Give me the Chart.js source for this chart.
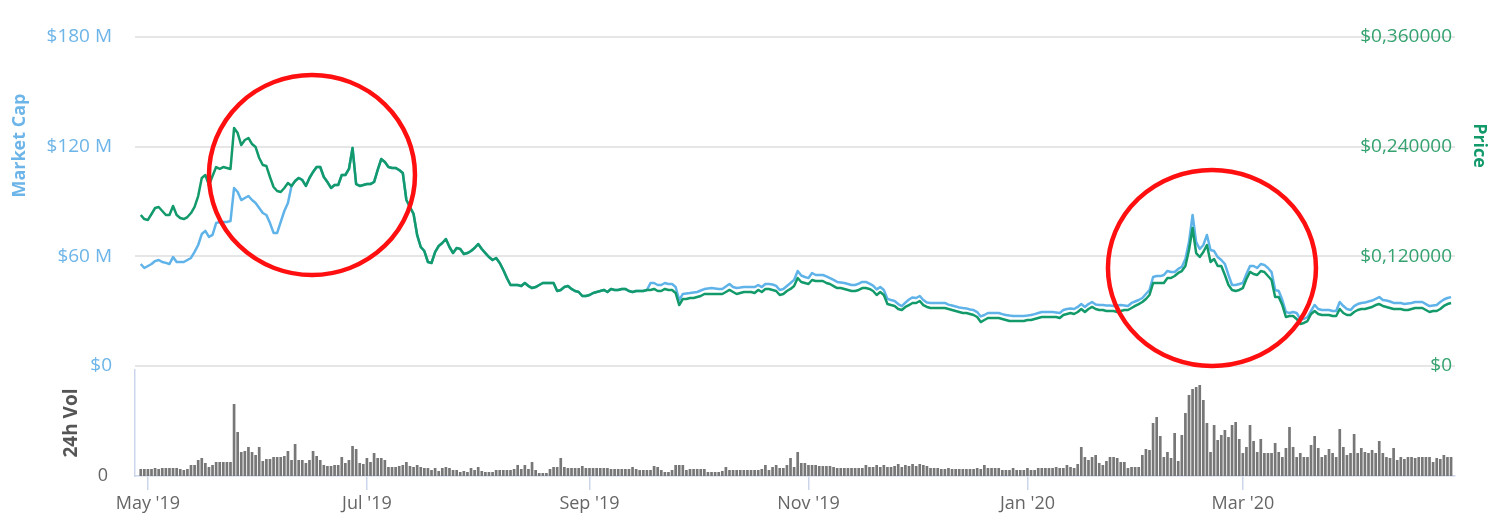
<!DOCTYPE html>
<html>
<head>
<meta charset="utf-8">
<title>Market Cap / Price / 24h Vol</title>
<script src="https://cdn.jsdelivr.net/npm/chart.js@4.4.1/dist/chart.umd.min.js"></script>
<style>
  html, body { margin: 0; padding: 0; background: #fff; }
  #wrap { position: relative; width: 1498px; height: 524px; }
  canvas { position: absolute; left: 0; top: 0; }
</style>
</head>
<body>
<div id="wrap">
  <canvas id="mainChart" width="1498" height="524"></canvas>
  <canvas id="volChart" width="1498" height="524"></canvas>
</div>
<script>
// one value per day, day 0 = 29 Apr 2019, day 365 = 28 Apr 2020

// market cap, $ M
const marketCap = [
  55.8, 53.6, 54.7, 55.8, 57.4, 58.0, 56.9, 56.4, 55.8, 59.6,
  56.9, 56.9, 56.9, 58.0, 59.1, 62.4, 66.2, 72.2, 73.9, 70.6,
  71.7, 78.2, 78.8, 78.8, 78.8, 79.3, 97.4, 95.2, 90.8, 91.9,
  93.0, 90.8, 89.2, 86.4, 83.7, 82.6, 78.2, 72.8, 72.8, 78.8,
  84.8, 89.2, 98.5, 101.2, 102.9, 101.8, 98.5, 102.9, 106.1, 108.9,
  108.9, 103.4, 100.7, 97.4, 99.0, 99.0, 104.5, 104.5, 107.8, 119.3,
  99.6, 98.5, 99.0, 99.6, 99.6, 100.7, 107.2, 113.2, 111.6, 108.9,
  108.3, 108.3, 107.2, 105.6, 90.8, 87.0, 83.2, 71.7, 65.1, 62.9,
  56.9, 56.4, 62.4, 65.7, 67.3, 69.5, 65.1, 61.8, 64.6, 64.0,
  61.3, 61.8, 62.9, 64.6, 66.7, 64.0, 61.8, 59.6, 58.0, 59.1,
  56.4, 52.5, 48.1, 44.3, 44.3, 44.3, 43.8, 45.4, 43.8, 42.7,
  43.2, 44.3, 45.4, 45.4, 45.4, 45.4, 41.0, 41.6, 43.2, 43.8,
  42.1, 41.0, 40.5, 38.3, 38.3, 38.8, 39.9, 40.5, 41.0, 41.6,
  40.5, 42.1, 41.6, 41.6, 42.1, 42.1, 41.0, 40.5, 41.0, 41.0,
  41.0, 41.6, 45.4, 45.4, 44.3, 44.3, 45.4, 44.9, 44.9, 43.2,
  36.1, 39.4, 39.7, 39.9, 40.2, 40.5, 41.3, 42.1, 42.4, 42.7,
  42.4, 42.1, 42.1, 43.5, 44.9, 43.2, 42.7, 42.9, 43.2, 43.2,
  43.2, 43.2, 44.3, 43.2, 44.9, 44.9, 44.6, 43.8, 41.6, 42.1,
  43.8, 45.4, 47.1, 52.0, 49.5, 48.7, 48.1, 50.9, 49.8, 49.8,
  49.8, 49.0, 48.1, 47.1, 46.0, 45.7, 45.4, 44.9, 44.3, 44.3,
  45.1, 46.0, 46.0, 45.1, 44.0, 41.9, 43.2, 41.6, 36.7, 36.1,
  35.6, 33.9, 32.8, 34.7, 36.4, 37.5, 37.2, 38.3, 36.1, 34.7,
  34.5, 34.5, 34.5, 34.5, 34.5, 33.6, 33.1, 32.6, 32.0, 31.7,
  31.5, 30.9, 30.6, 29.5, 27.1, 27.9, 29.0, 29.0, 29.0, 29.0,
  28.4, 27.9, 27.6, 27.4, 27.4, 27.4, 27.4, 27.6, 27.9, 28.4,
  29.0, 29.5, 29.5, 29.5, 29.5, 29.3, 29.0, 30.6, 31.2, 31.5,
  31.2, 32.3, 33.9, 32.3, 33.9, 35.0, 33.6, 33.4, 33.4, 33.1,
  33.1, 32.8, 33.1, 33.4, 33.1, 32.8, 34.5, 35.3, 36.1, 37.2,
  39.4, 41.6, 48.7, 49.2, 49.2, 49.8, 52.0, 51.4, 51.4, 53.1,
  54.2, 58.5, 67.8, 82.6, 67.8, 64.0, 66.2, 71.7, 63.5, 62.9,
  59.6, 58.0, 55.8, 49.8, 44.3, 44.3, 44.9, 45.4, 50.3, 54.7,
  54.7, 53.6, 55.8, 55.3, 53.6, 51.4, 41.6, 41.0, 36.1, 29.5,
  29.0, 29.5, 29.0, 25.7, 25.7, 26.8, 30.1, 33.4, 31.2, 30.6,
  30.6, 30.6, 30.1, 30.1, 35.0, 32.8, 31.2, 30.6, 32.8, 33.9,
  34.5, 34.7, 35.3, 35.8, 36.7, 37.7, 36.1, 35.8, 35.3, 34.5,
  34.5, 34.5, 33.9, 34.2, 34.5, 35.0, 35.0, 35.0, 33.9, 32.8,
  33.1, 33.4, 35.0, 36.4, 37.2, 37.7
];

// price, $
const price = [
  0.1652, 0.1608, 0.1598, 0.1663, 0.1729, 0.1740, 0.1696, 0.1652, 0.1652, 0.1751,
  0.1652, 0.1619, 0.1608, 0.1630, 0.1674, 0.1740, 0.1860, 0.2057, 0.2090, 0.1981,
  0.2079, 0.2177, 0.2156, 0.2177, 0.2167, 0.2156, 0.2604, 0.2549, 0.2418, 0.2473,
  0.2495, 0.2429, 0.2396, 0.2276, 0.2199, 0.2188, 0.2068, 0.1959, 0.1915, 0.1904,
  0.1948, 0.2002, 0.1970, 0.2024, 0.2057, 0.2035, 0.1970, 0.2057, 0.2123, 0.2177,
  0.2177, 0.2068, 0.2013, 0.1948, 0.1981, 0.1981, 0.2090, 0.2090, 0.2156, 0.2385,
  0.1991, 0.1970, 0.1981, 0.1991, 0.1991, 0.2013, 0.2145, 0.2265, 0.2232, 0.2177,
  0.2167, 0.2167, 0.2145, 0.2112, 0.1816, 0.1740, 0.1663, 0.1433, 0.1302, 0.1258,
  0.1138, 0.1127, 0.1247, 0.1313, 0.1346, 0.1390, 0.1302, 0.1236, 0.1291, 0.1280,
  0.1226, 0.1236, 0.1258, 0.1291, 0.1335, 0.1280, 0.1236, 0.1193, 0.1160, 0.1182,
  0.1127, 0.1050, 0.0963, 0.0886, 0.0886, 0.0886, 0.0875, 0.0908, 0.0875, 0.0853,
  0.0864, 0.0886, 0.0908, 0.0908, 0.0908, 0.0908, 0.0821, 0.0832, 0.0864, 0.0875,
  0.0843, 0.0821, 0.0810, 0.0766, 0.0766, 0.0777, 0.0799, 0.0810, 0.0821, 0.0832,
  0.0810, 0.0843, 0.0832, 0.0832, 0.0843, 0.0843, 0.0821, 0.0810, 0.0821, 0.0821,
  0.0821, 0.0832, 0.0832, 0.0843, 0.0821, 0.0821, 0.0843, 0.0832, 0.0832, 0.0799,
  0.0667, 0.0733, 0.0733, 0.0744, 0.0744, 0.0755, 0.0766, 0.0788, 0.0788, 0.0788,
  0.0788, 0.0788, 0.0788, 0.0810, 0.0832, 0.0810, 0.0788, 0.0799, 0.0810, 0.0810,
  0.0810, 0.0799, 0.0832, 0.0810, 0.0843, 0.0843, 0.0832, 0.0821, 0.0777, 0.0788,
  0.0821, 0.0843, 0.0875, 0.0963, 0.0919, 0.0908, 0.0897, 0.0941, 0.0930, 0.0930,
  0.0930, 0.0908, 0.0897, 0.0875, 0.0853, 0.0853, 0.0843, 0.0832, 0.0821, 0.0821,
  0.0832, 0.0853, 0.0853, 0.0843, 0.0821, 0.0777, 0.0810, 0.0777, 0.0678, 0.0667,
  0.0657, 0.0624, 0.0613, 0.0646, 0.0667, 0.0689, 0.0689, 0.0711, 0.0667, 0.0646,
  0.0635, 0.0635, 0.0635, 0.0635, 0.0635, 0.0624, 0.0613, 0.0602, 0.0591, 0.0580,
  0.0580, 0.0569, 0.0558, 0.0536, 0.0481, 0.0503, 0.0525, 0.0525, 0.0525, 0.0525,
  0.0514, 0.0503, 0.0492, 0.0492, 0.0492, 0.0492, 0.0492, 0.0503, 0.0503, 0.0514,
  0.0525, 0.0536, 0.0536, 0.0536, 0.0536, 0.0536, 0.0525, 0.0558, 0.0569, 0.0580,
  0.0569, 0.0591, 0.0624, 0.0591, 0.0624, 0.0646, 0.0624, 0.0613, 0.0613, 0.0602,
  0.0602, 0.0602, 0.0591, 0.0602, 0.0613, 0.0613, 0.0635, 0.0657, 0.0678, 0.0700,
  0.0733, 0.0777, 0.0908, 0.0908, 0.0908, 0.0908, 0.0963, 0.0963, 0.0985, 0.1018,
  0.1039, 0.1094, 0.1269, 0.1510, 0.1236, 0.1193, 0.1247, 0.1324, 0.1138, 0.1171,
  0.1094, 0.1094, 0.0996, 0.0886, 0.0832, 0.0821, 0.0832, 0.0853, 0.0952, 0.1029,
  0.1007, 0.0996, 0.1039, 0.1029, 0.0985, 0.0941, 0.0755, 0.0755, 0.0667, 0.0536,
  0.0547, 0.0547, 0.0514, 0.0460, 0.0471, 0.0492, 0.0569, 0.0602, 0.0569, 0.0558,
  0.0558, 0.0558, 0.0547, 0.0547, 0.0624, 0.0580, 0.0558, 0.0558, 0.0591, 0.0613,
  0.0624, 0.0624, 0.0635, 0.0646, 0.0667, 0.0678, 0.0657, 0.0646, 0.0635, 0.0624,
  0.0624, 0.0624, 0.0613, 0.0613, 0.0624, 0.0635, 0.0635, 0.0635, 0.0613, 0.0591,
  0.0602, 0.0602, 0.0624, 0.0657, 0.0678, 0.0689
];

// 24h volume, $ M
const volume = [
  0.7, 0.7, 0.7, 0.7, 0.8, 0.7, 0.8, 0.8, 0.8, 0.8,
  0.8, 0.7, 0.6, 0.7, 1.1, 1.1, 1.6, 1.8, 1.3, 0.9,
  1.1, 1.4, 1.4, 1.4, 1.4, 1.4, 7.2, 4.4, 2.4, 2.5,
  2.9, 2.4, 2.1, 2.9, 1.5, 1.7, 1.7, 1.9, 1.9, 1.9,
  2.0, 2.5, 1.6, 3.2, 1.6, 1.6, 1.3, 1.6, 2.5, 2.0,
  1.6, 1.1, 1.0, 1.0, 1.1, 1.1, 1.9, 1.3, 1.6, 3.0,
  2.7, 1.3, 1.2, 1.8, 1.4, 2.3, 1.8, 1.8, 1.6, 0.9,
  0.9, 0.9, 1.0, 1.1, 1.4, 1.0, 0.9, 1.1, 0.9, 0.8,
  0.8, 0.6, 0.8, 0.5, 0.8, 0.9, 0.8, 0.6, 0.6, 0.4,
  0.5, 0.4, 0.8, 0.6, 0.9, 0.5, 0.4, 0.4, 0.4, 0.6,
  0.6, 0.6, 0.6, 0.6, 0.7, 1.1, 0.7, 1.1, 0.7, 1.4,
  0.6, 0.3, 0.3, 0.3, 0.7, 0.9, 0.9, 1.8, 0.9, 0.8,
  0.8, 0.8, 0.8, 1.0, 0.8, 0.8, 0.8, 0.8, 0.8, 0.8,
  0.8, 0.7, 0.7, 0.7, 0.7, 0.7, 0.7, 0.9, 0.7, 0.6,
  0.6, 0.6, 0.6, 1.0, 0.9, 0.6, 0.4, 0.4, 0.6, 1.1,
  1.1, 1.1, 0.6, 0.7, 0.7, 0.7, 0.7, 0.7, 0.4, 0.4,
  0.4, 0.4, 0.5, 0.9, 0.6, 0.6, 0.6, 0.6, 0.6, 0.6,
  0.6, 0.6, 0.6, 0.7, 1.1, 0.6, 0.9, 1.1, 0.8, 0.8,
  1.1, 1.8, 0.9, 2.4, 1.3, 1.3, 1.1, 1.1, 1.1, 1.0,
  1.0, 1.0, 1.0, 0.9, 0.8, 0.8, 0.8, 0.8, 0.8, 0.8,
  0.8, 0.8, 1.1, 0.9, 0.9, 1.1, 0.9, 1.1, 0.9, 0.9,
  1.0, 1.2, 0.9, 1.1, 1.0, 1.2, 1.0, 1.2, 1.1, 1.0,
  0.8, 0.8, 0.8, 0.7, 0.7, 0.8, 0.7, 0.7, 0.7, 0.7,
  0.7, 0.7, 0.7, 0.8, 0.7, 1.1, 0.8, 0.8, 0.8, 0.8,
  0.6, 0.6, 0.6, 0.8, 0.6, 0.6, 0.6, 0.8, 0.6, 0.6,
  0.8, 0.8, 0.8, 0.8, 0.8, 0.9, 0.8, 0.8, 1.1, 0.9,
  0.8, 1.2, 2.9, 1.9, 1.6, 1.9, 2.1, 1.3, 1.1, 1.5,
  1.9, 1.9, 1.8, 1.4, 1.4, 0.8, 0.9, 0.9, 0.9, 2.1,
  2.7, 2.6, 5.3, 5.9, 4.0, 1.9, 2.4, 1.8, 4.3, 1.5,
  4.1, 6.3, 8.1, 8.7, 8.9, 9.1, 7.6, 5.3, 2.4, 5.1,
  3.6, 4.1, 4.6, 3.9, 5.1, 5.4, 3.7, 2.3, 2.9, 5.1,
  3.5, 2.4, 3.7, 2.3, 2.3, 2.3, 3.3, 2.4, 1.9, 2.8,
  4.9, 2.9, 1.9, 2.3, 1.9, 1.9, 3.1, 4.0, 2.8, 1.9,
  2.1, 2.7, 2.3, 1.9, 4.7, 2.9, 2.1, 2.3, 4.2, 2.3,
  2.8, 2.4, 2.3, 2.6, 2.3, 3.5, 2.3, 1.9, 1.8, 2.8,
  1.6, 1.9, 1.7, 1.9, 1.9, 1.8, 1.9, 1.9, 1.9, 1.9,
  1.4, 1.8, 1.7, 2.1, 1.9, 1.9
];

// x axis month labels (day index of the 1st of the month)
const tickDays = [2, 63, 125, 186, 247, 307];
const tickLabels = ["May '19", "Jul '19", "Sep '19", "Nov '19", "Jan '20", "Mar '20"];

// red rings drawn over the chart: centre in (day, market cap), radii in px
const rings = [
  { day: 47.7, cap: 104.5, rx: 103, ry: 100 },
  { day: 298.4, cap: 53.6, rx: 104, ry: 98 }
];

const X_MIN = -1.6, X_MAX = 366.1;
const FONT = "'Open Sans', sans-serif";
const BLUE_LINE = '#5fb3e9', BLUE_TEXT = '#6db5e8';
const GREEN_LINE = '#129a6a', GREEN_TEXT = '#35a26f';

Chart.defaults.font.family = FONT;
Chart.defaults.font.size = 18;

const toXY = arr => arr.map((v, i) => ({ x: i, y: v }));

const ringsPlugin = {
  id: 'rings',
  afterDraw(chart) {
    const ctx = chart.ctx;
    const xs = chart.scales.x, ys = chart.scales.y;
    ctx.save();
    ctx.strokeStyle = '#ff0f0f';
    ctx.lineWidth = 4.5;
    rings.forEach(r => {
      ctx.beginPath();
      ctx.ellipse(xs.getPixelForValue(r.day), ys.getPixelForValue(r.cap), r.rx, r.ry, 0, 0, Math.PI * 2);
      ctx.stroke();
    });
    ctx.restore();
  }
};

// axis titles of the top pane (sit above centre, like the original)
const titlesPlugin = {
  id: 'titles',
  afterDraw(chart) {
    const ctx = chart.ctx, a = chart.chartArea;
    const midY = a.top + (a.bottom - a.top) * 0.33;
    ctx.save();
    ctx.font = 'bold 18px ' + FONT;
    ctx.textAlign = 'center';
    ctx.textBaseline = 'middle';
    ctx.fillStyle = BLUE_TEXT;
    ctx.translate(20, midY);
    ctx.rotate(-Math.PI / 2);
    ctx.fillText('Market Cap', 0, 0);
    ctx.restore();
    ctx.save();
    ctx.font = 'bold 18px ' + FONT;
    ctx.textAlign = 'center';
    ctx.textBaseline = 'middle';
    ctx.fillStyle = GREEN_LINE;
    ctx.translate(1479, midY);
    ctx.rotate(Math.PI / 2);
    ctx.fillText('Price', 0, 0);
    ctx.restore();
  }
};

new Chart(document.getElementById('mainChart'), {
  type: 'line',
  data: {
    datasets: [{
      label: 'Price',
      data: toXY(price),
      yAxisID: 'yPrice',
      borderColor: GREEN_LINE,
      borderWidth: 2.5,
      pointRadius: 0,
      tension: 0,
      borderJoinStyle: 'round'
    }, {
      label: 'Market Cap',
      data: toXY(marketCap),
      yAxisID: 'y',
      borderColor: BLUE_LINE,
      borderWidth: 2.5,
      pointRadius: 0,
      tension: 0,
      borderJoinStyle: 'round'
    }]
  },
  options: {
    responsive: false,
    animation: false,
    devicePixelRatio: 1,
    layout: { padding: { top: 37, bottom: 158, left: 0, right: 0 } },
    plugins: { legend: { display: false }, tooltip: { enabled: false } },
    scales: {
      x: { type: 'linear', min: X_MIN, max: X_MAX, display: false },
      y: {
        position: 'left',
        min: 0, max: 180,
        ticks: {
          stepSize: 60,
          color: BLUE_TEXT,
          padding: 23,
          font: { size: 19 },
          callback: v => v === 0 ? '$0' : '$' + v + ' M'
        },
        grid: { color: '#e6e6e6', lineWidth: 2, drawTicks: false },
        border: { display: false },
        afterFit: s => { s.width = 135; }
      },
      yPrice: {
        position: 'right',
        min: 0, max: 0.36,
        ticks: {
          stepSize: 0.12,
          mirror: true,
          padding: -3,
          color: GREEN_TEXT,
          font: { size: 19 },
          callback: v => v === 0 ? '$0' : '$' + v.toFixed(6).replace('.', ',')
        },
        grid: { display: false, drawTicks: false },
        border: { display: false },
        afterFit: s => { s.width = 43; }
      }
    }
  },
  plugins: [ringsPlugin, titlesPlugin]
});

new Chart(document.getElementById('volChart'), {
  type: 'bar',
  data: {
    datasets: [{
      label: '24h Vol',
      data: toXY(volume),
      yAxisID: 'yVol',
      backgroundColor: '#777777',
      barPercentage: 0.75,
      categoryPercentage: 1
    }]
  },
  options: {
    responsive: false,
    animation: false,
    devicePixelRatio: 1,
    layout: { padding: { top: 370, right: 43, left: 0, bottom: 0 } },
    plugins: { legend: { display: false }, tooltip: { enabled: false } },
    scales: {
      x: {
        type: 'linear',
        min: X_MIN, max: X_MAX,
        offset: false,
        afterBuildTicks: s => { s.ticks = tickDays.map(v => ({ value: v })); },
        ticks: {
          autoSkip: false,
          maxRotation: 0,
          padding: 3,
          color: '#666666',
          callback: (v, i) => tickLabels[i]
        },
        grid: { offset: false, drawOnChartArea: false, drawTicks: true, tickLength: 14, color: '#ccd6eb', lineWidth: 1.5 },
        border: { display: true, color: '#ccd6eb', width: 1.5 },
        afterFit: s => { s.height = 48; }
      },
      yVol: {
        position: 'left',
        min: 0, max: 10.6,
        afterBuildTicks: s => { s.ticks = [{ value: 0 }]; },
        ticks: { color: '#666666', padding: 27 },
        grid: { display: false, drawTicks: false },
        border: { display: true, color: '#ccd6eb', width: 1.5 },
        title: {
          display: true,
          text: '24h Vol',
          color: '#555555',
          font: { size: 19, weight: 'bold' },
          padding: { top: 60, bottom: 0 }
        },
        afterFit: s => { s.width = 135; }
      }
    }
  }
});
</script>
</body>
</html>
